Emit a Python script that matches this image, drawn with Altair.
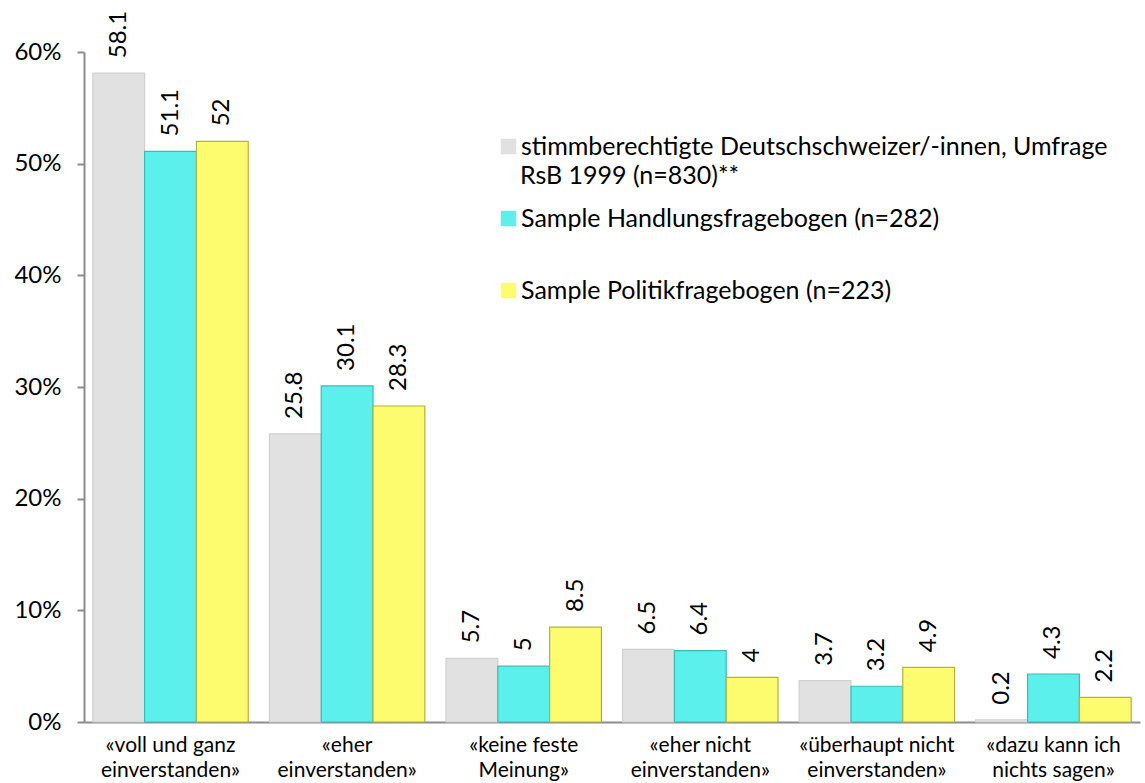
import altair as alt
import pandas as pd

# Answer categories (line break marks the second line of the axis label)
categories = [
    "«voll und ganz\neinverstanden»",
    "«eher\neinverstanden»",
    "«keine feste\nMeinung»",
    "«eher nicht\neinverstanden»",
    "«überhaupt nicht\neinverstanden»",
    "«dazu kann ich\nnichts sagen»",
]

series = [
    "stimmberechtigte Deutschschweizer/-innen, Umfrage",
    "Sample Handlungsfragebogen (n=282)",
    "Sample Politikfragebogen (n=223)",
]
# continuation line of the first legend entry
series_note = ["RsB 1999 (n=830)**"]

# Percentages per series, in category order
rsb_1999 = [58.1, 25.8, 5.7, 6.5, 3.7, 0.2]
handlung = [51.1, 30.1, 5.0, 6.4, 3.2, 4.3]
politik = [52.0, 28.3, 8.5, 4.0, 4.9, 2.2]

fills = ["#e1e1e1", "#5cf0ec", "#fcfc6e"]
edges = ["#d0d0d0", "#3fb8b6", "#b2b243"]

rows = []
for name, values in zip(series, [rsb_1999, handlung, politik]):
    for cat, v in zip(categories, values):
        rows.append({"Kategorie": cat, "Gruppe": name, "Anteil": v})
df = pd.DataFrame(rows)

FONT = "Lato"

x = alt.X(
    "Kategorie:N",
    sort=categories,
    scale=alt.Scale(paddingInner=0.12, paddingOuter=0.05),
    axis=alt.Axis(
        title=None,
        labelAngle=0,
        labelExpr="split(datum.label, '\\n')",
        labelFont=FONT,
        labelFontSize=21,
        labelColor="#000000",
        labelLineHeight=25,
        labelPadding=12,
        ticks=False,
        domainColor="#8c8c8c",
        domainWidth=2,
    ),
)
x_off = alt.XOffset("Gruppe:N", sort=series, scale=alt.Scale(paddingInner=0))
y = alt.Y(
    "Anteil:Q",
    scale=alt.Scale(domain=[0, 60], nice=False),
    axis=alt.Axis(
        title=None,
        values=[0, 10, 20, 30, 40, 50, 60],
        labelExpr="datum.value + '%'",
        labelFont=FONT,
        labelFontSize=24,
        labelColor="#000000",
        labelPadding=16,
        tickSize=7,
        tickColor="#8c8c8c",
        tickWidth=2,
        domainColor="#8c8c8c",
        domainWidth=2,
        grid=False,
    ),
)

LEG_X = 412
LEG_Y = 82

legend = alt.Legend(
    title=None,
    orient="none",
    legendX=LEG_X,
    legendY=LEG_Y,
    direction="vertical",
    symbolType="square",
    symbolSize=240,
    symbolStrokeWidth=0,
    labelFont=FONT,
    labelFontSize=25,
    labelColor="#000000",
    labelLimit=0,
    labelOffset=0,
    rowPadding=46,
)

bars = alt.Chart(df).mark_bar(strokeWidth=1.2).encode(
    x=x,
    xOffset=x_off,
    y=y,
    color=alt.Color("Gruppe:N", sort=series, scale=alt.Scale(domain=series, range=fills), legend=legend),
    stroke=alt.Stroke("Gruppe:N", sort=series, scale=alt.Scale(domain=series, range=edges), legend=None),
)

labels = alt.Chart(df).mark_text(
    angle=270, align="left", baseline="middle", dx=15, font=FONT, fontSize=24, color="#000000"
).encode(
    x=alt.X("Kategorie:N", sort=categories),
    xOffset=alt.XOffset("Gruppe:N", sort=series),
    y="Anteil:Q",
    text="Anteil:Q",
)

# second line of the first legend entry, set under its label
note = alt.Chart(pd.DataFrame({"t": series_note})).mark_text(
    align="left", baseline="middle", font=FONT, fontSize=25, color="#000000"
).encode(
    x=alt.value(LEG_X + 24),
    y=alt.value(LEG_Y + 42),
    text="t:N",
)

chart = (
    alt.layer(bars, labels, note)
    .properties(
        width=1056,
        height=670,
        autosize=alt.AutoSizeParams(type="none"),
        padding={"left": 84, "top": 52, "right": 5, "bottom": 61},
        background="#ffffff",
    )
    .configure_view(stroke=None)
)

chart.save("out.html", embed_options={"renderer": "svg", "actions": False})
